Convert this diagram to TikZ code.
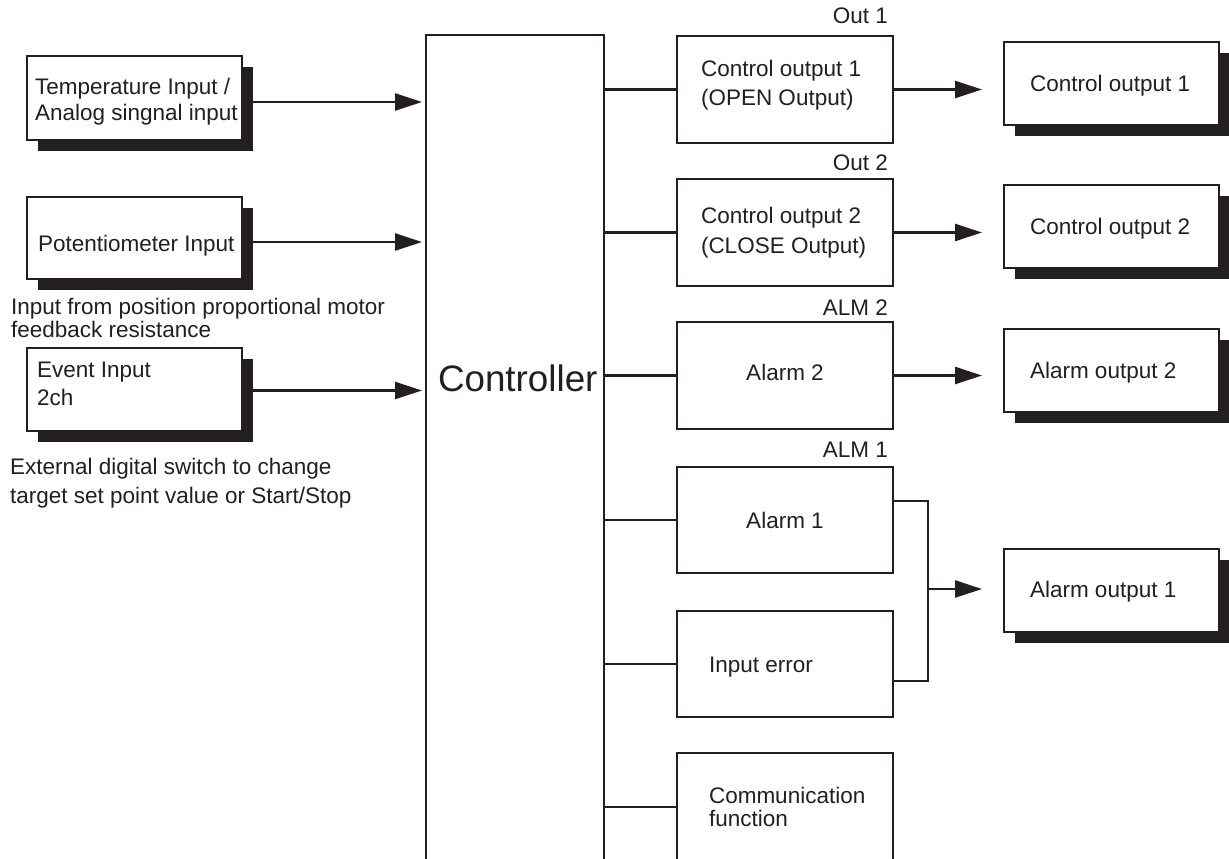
\documentclass[tikz,border=0pt]{standalone}
\usepackage{fontspec}
\setmainfont{Liberation Sans}
\usetikzlibrary{arrows.meta,shadows,calc}
\definecolor{ink}{RGB}{35,31,32}
\begin{document}
\begin{tikzpicture}[x=1pt,y=-1pt,
  box/.style={draw=ink, line width=2.8pt, fill=white, inner sep=0pt, outer sep=0pt, rectangle},
  sbox/.style={box, drop shadow={shadow xshift=11pt, shadow yshift=-11pt, fill=ink, opacity=1}},
  txt/.style={text=ink, inner sep=0pt, outer sep=0pt, anchor=base west, align=left, font=\fontsize{22.5}{26}\selectfont},
  conn/.style={draw=ink, line width=2.6pt},
  arr/.style={conn, -{Triangle[length=27pt,width=17pt]}}]
\useasboundingbox (0,0) rectangle (1229,859);

% Controller
\node[box, minimum width=178pt, minimum height=900pt] (ctrl) at (515,485) {};
\node[txt, font=\fontsize{36.8}{40}\selectfont] (ctrltxt) at (438,391) {Controller};

% Left input boxes
\node[sbox, minimum width=215pt, minimum height=84pt] (temp) at (134.5,98) {};
\node[sbox, minimum width=215pt, minimum height=82pt] (pot) at (134.5,238) {};
\node[sbox, minimum width=215pt, minimum height=83pt] (evt) at (134.5,389.5) {};

\node[txt] (temptxt) at (35,121) {Temperature Input /\\Analog singnal input};
\node[txt] (pottxt) at (38,251) {Potentiometer Input};
\node[txt, font=\fontsize{22.5}{23}\selectfont] (potnote) at (11,337) {Input from position proportional motor\\feedback resistance};
\node[txt, font=\fontsize{22.5}{28}\selectfont] (evttxt) at (37,405) {Event Input\\2ch};
\node[txt, font=\fontsize{22.5}{29}\selectfont] (evtnote) at (10,503) {External digital switch to change\\target set point value or Start/Stop};

\draw[arr, shorten >=4pt] ([xshift=11pt,yshift=-4pt]temp.east) -- ([yshift=-4pt]temp.east -| ctrl.west);
\draw[arr, shorten >=4pt] ([xshift=11pt,yshift=-4pt]pot.east) -- ([yshift=-4pt]pot.east -| ctrl.west);
\draw[arr, shorten >=4pt] ([xshift=11pt,yshift=-1pt]evt.east) -- ([yshift=-1pt]evt.east -| ctrl.west);

% Middle function boxes
\node[box, minimum width=216pt, minimum height=107pt] (m1) at (785,89.5) {};
\node[box, minimum width=216pt, minimum height=107pt] (m2) at (785,232.5) {};
\node[box, minimum width=216pt, minimum height=107pt] (m3) at (785,375.5) {};
\node[box, minimum width=216pt, minimum height=106pt] (m4) at (785,520) {};
\node[box, minimum width=216pt, minimum height=106pt] (m5) at (785,664) {};
\node[box, minimum width=216pt, minimum height=200pt] (m6) at (785,853) {};
\coordinate (commin) at ([yshift=-54pt]m6.north west);

\node[txt, anchor=base east] (lo1) at (888,24) {Out 1};
\node[txt, anchor=base east] (lo2) at (888,170) {Out 2};
\node[txt, anchor=base east] (la2) at (888,315) {ALM 2};
\node[txt, anchor=base east] (la1) at (888,457) {ALM 1};

\node[txt, font=\fontsize{22.5}{29}\selectfont] (m1txt) at (701,106) {Control output 1\\(OPEN Output)};
\node[txt, font=\fontsize{22.5}{30}\selectfont] (m2txt) at (701,253) {Control output 2\\(CLOSE Output)};
\node[txt, anchor=base] (m3txt) at (785,380) {Alarm 2};
\node[txt, anchor=base] (m4txt) at (785,528) {Alarm 1};
\node[txt] (m5txt) at (709,672) {Input error};
\node[txt, font=\fontsize{22.5}{23}\selectfont] (m6txt) at (709,826) {Communication\\function};

\draw[conn] (m1.west -| ctrl.east) -- (m1.west);
\draw[conn] (m2.west -| ctrl.east) -- (m2.west);
\draw[conn] (m3.west -| ctrl.east) -- (m3.west);
\draw[conn] (m4.west -| ctrl.east) -- (m4.west);
\draw[conn] (m5.west -| ctrl.east) -- (m5.west);
\draw[conn] (commin -| ctrl.east) -- (commin);

% Right output boxes
\node[sbox, minimum width=215pt, minimum height=83pt] (r1) at (1111.5,83.5) {};
\node[sbox, minimum width=215pt, minimum height=83pt] (r2) at (1111.5,226.5) {};
\node[sbox, minimum width=215pt, minimum height=83pt] (r3) at (1111.5,370.5) {};
\node[sbox, minimum width=215pt, minimum height=83pt] (r4) at (1111.5,590.5) {};

\node[txt] (r1txt) at (1030,92) {Control output 1};
\node[txt] (r2txt) at (1030,234) {Control output 2};
\node[txt] (r3txt) at (1030,378) {Alarm output 2};
\node[txt] (r4txt) at (1030,597) {Alarm output 1};

\draw[arr, shorten >=22pt] (m1.east) -- (m1.east -| r1.west);
\draw[arr, shorten >=22pt] (m2.east) -- (m2.east -| r2.west);
\draw[arr, shorten >=22pt] (m3.east) -- (m3.east -| r3.west);

\coordinate (join) at (928,589);
\draw[conn] ([yshift=19pt]m4.east) -| (join) |- ([yshift=-17pt]m5.east);
\draw[arr, shorten >=22pt] (join) -- (join -| r4.west);
\end{tikzpicture}
\end{document}
